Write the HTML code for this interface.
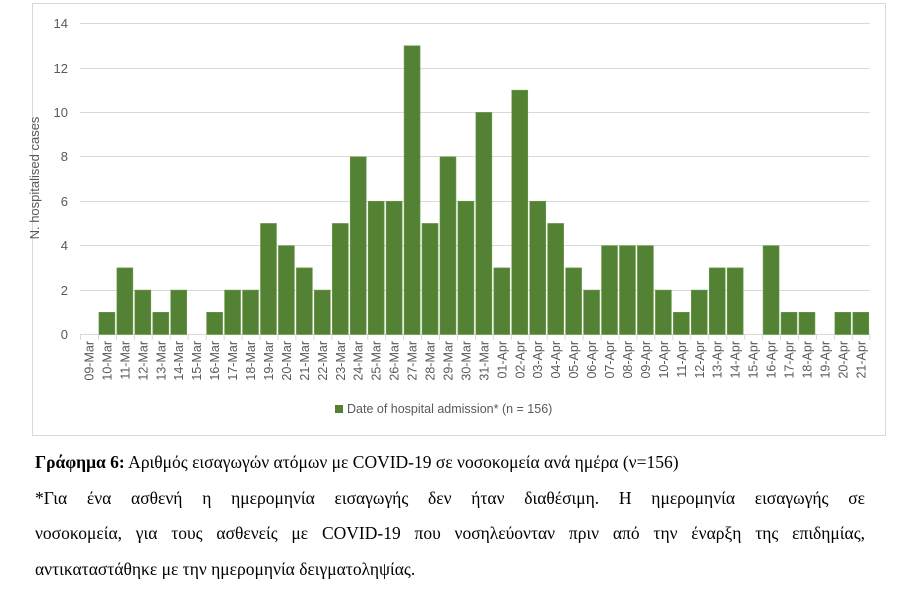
<!DOCTYPE html>
<html><head><meta charset="utf-8"><style>
body{margin:0;background:#fff;width:900px;height:589px;overflow:hidden;font-family:"Liberation Sans",sans-serif}
.cap{position:absolute;left:35px;font-family:"Liberation Serif","DejaVu Serif",serif;font-size:17.5px;color:#000}
</style></head><body>
<svg width="900" height="440" style="position:absolute;left:0;top:0" font-family="Liberation Sans, sans-serif">
<rect x="32.5" y="3.5" width="853" height="432" fill="#fff" stroke="#d9d9d9"/>
<g stroke="#d9d9d9" stroke-width="1">
<line x1="80" x2="870" y1="23.5" y2="23.5"/>
<line x1="80" x2="870" y1="68.5" y2="68.5"/>
<line x1="80" x2="870" y1="112.5" y2="112.5"/>
<line x1="80" x2="870" y1="156.5" y2="156.5"/>
<line x1="80" x2="870" y1="201.5" y2="201.5"/>
<line x1="80" x2="870" y1="245.5" y2="245.5"/>
<line x1="80" x2="870" y1="290.5" y2="290.5"/>
<line x1="80" x2="870" y1="334.5" y2="334.5"/>
</g>
<g fill="#595959" font-size="13" text-anchor="end">
<text x="68" y="339">0</text><text x="68" y="295">2</text><text x="68" y="250">4</text>
<text x="68" y="206">6</text><text x="68" y="161">8</text><text x="68" y="117">10</text>
<text x="68" y="73">12</text><text x="68" y="28">14</text>
</g>
<text transform="translate(39,178) rotate(-90)" fill="#595959" font-size="13" text-anchor="middle">N. hospitalised cases</text>
<g id="bars"></g>
<g id="ticks" stroke="#d9d9d9"></g>
<g id="labels" fill="#595959" font-size="12.5" text-anchor="end"></g>
<rect x="335" y="405" width="8" height="8" fill="#548235"/>
<text x="347" y="413" fill="#595959" font-size="12.5">Date of hospital admission* (n = 156)</text>
</svg>
<div class="cap" style="top:452px"><b>Γράφημα 6:</b> Αριθμός εισαγωγών ατόμων με COVID-19 σε νοσοκομεία ανά ημέρα (ν=156)</div>
<div class="cap" style="top:488px;width:830px;text-align:justify;text-align-last:justify">*Για ένα ασθενή η ημερομηνία εισαγωγής δεν ήταν διαθέσιμη. Η ημερομηνία εισαγωγής σε</div>
<div class="cap" style="top:523px;width:830px;text-align:justify;text-align-last:justify">νοσοκομεία, για τους ασθενείς με COVID-19 που νοσηλεύονταν πριν από την έναρξη της επιδημίας,</div>
<div class="cap" style="top:559px">αντικαταστάθηκε με την ημερομηνία δειγματοληψίας.</div>
<script>
var v=[0,1,3,2,1,2,0,1,2,2,5,4,3,2,5,8,6,6,13,5,8,6,10,3,11,6,5,3,2,4,4,4,2,1,2,3,3,0,4,1,1,0,1,1];
var n=[];for(var d=9;d<=31;d++)n.push((d<10?'0':'')+d+'-Mar');for(var d=1;d<=21;d++)n.push((d<10?'0':'')+d+'-Apr');
var ns='http://www.w3.org/2000/svg',x0=80,w=17.95,u=22.21,b=document.getElementById('bars'),t=document.getElementById('ticks'),l=document.getElementById('labels');
for(var i=0;i<44;i++){var x=x0+i*w;
if(v[i]){var r=document.createElementNS(ns,'rect');r.setAttribute('x',x+1);r.setAttribute('width',w-2);r.setAttribute('y',334.5-v[i]*u);r.setAttribute('height',v[i]*u);r.setAttribute('fill','#548235');r.setAttribute('stroke','#6b9a48');r.setAttribute('stroke-width','0.6');b.appendChild(r);}
var k=document.createElementNS(ns,'line');k.setAttribute('x1',x+.5);k.setAttribute('x2',x+.5);k.setAttribute('y1',334);k.setAttribute('y2',340);t.appendChild(k);
var tx=document.createElementNS(ns,'text');tx.setAttribute('transform','translate('+(x+w/2+4.5)+',341) rotate(-90)');tx.textContent=n[i];l.appendChild(tx);}
var k=document.createElementNS(ns,'line');k.setAttribute('x1',x0+44*w);k.setAttribute('x2',x0+44*w);k.setAttribute('y1',334);k.setAttribute('y2',340);t.appendChild(k);
</script>
</body></html>
